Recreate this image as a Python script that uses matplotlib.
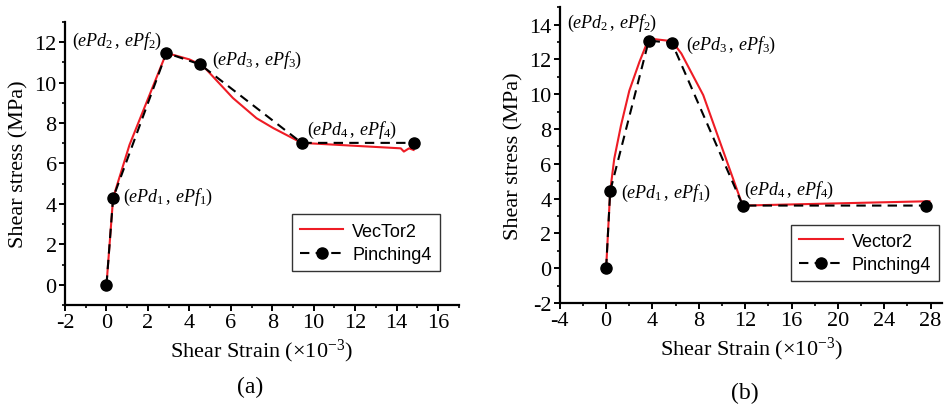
import matplotlib
matplotlib.use("Agg")
import matplotlib.pyplot as plt
from matplotlib.ticker import MultipleLocator, AutoMinorLocator

plt.rcParams['font.family'] = ['Liberation Serif', 'DejaVu Serif']
plt.rcParams['mathtext.fontset'] = 'custom'
plt.rcParams['mathtext.rm'] = 'Liberation Serif'
plt.rcParams['mathtext.it'] = 'Liberation Serif:italic'
plt.rcParams['axes.unicode_minus'] = False

# ---- Panel (a) data ----
a_vec_x = [0, 0.32, 1.11, 2.89, 4.0, 4.52, 4.82, 6.1, 7.24, 8.05, 9.42, 14.2, 14.35, 14.6, 14.82]
a_vec_y = [0, 4.3, 6.92, 11.47, 11.15, 10.9, 10.65, 9.24, 8.24, 7.75, 7.02, 6.75, 6.59, 6.75, 6.67]
a_pin_x = [0, 0.32, 2.89, 4.52, 9.42, 14.82]
a_pin_y = [0, 4.3, 11.47, 10.9, 7.02, 7.02]

# ---- Panel (b) data ----
b_vec_x = [0, 0.35, 0.7, 1.28, 2.0, 2.87, 3.68, 5.68, 6.49, 8.38, 11.57, 11.8, 27.9]
b_vec_y = [0, 4.43, 6.29, 8.2, 10.2, 11.85, 13.2, 13.05, 12.34, 9.95, 4.0, 3.6, 3.85]
b_pin_x = [0, 0.35, 3.68, 5.68, 11.8, 27.6]
b_pin_y = [0, 4.43, 13.08, 12.95, 3.6, 3.6]

a_labels = [(-1.65, 12.07, 2), (5.1, 11.17, 3), (0.78, 4.37, 1), (9.66, 7.7, 4)]
b_labels = [(-3.42, 14.15, 2), (6.87, 12.85, 3), (1.28, 4.37, 1), (11.9, 4.53, 4)]

fig = plt.figure(figsize=(9.44, 4.10), dpi=100)
axa = fig.add_axes([0.0689, 0.2537, 0.4171, 0.6902])
axb = fig.add_axes([0.593, 0.2585, 0.405, 0.7215])

def style(ax, xlim, ylim, xmaj, ymaj, vec_label, vx, vy, px, py, labels, legpos):
    ax.plot(vx, vy, color='#ee1c25', lw=1.5, zorder=2, label=vec_label)
    ax.plot(px, py, color='black', lw=1.5, dashes=(4.5, 3), marker='o', ms=8,
            zorder=3, label='Pinching4')
    ax.set_xlim(*xlim)
    ax.set_ylim(*ylim)
    ax.xaxis.set_major_locator(MultipleLocator(xmaj))
    ax.yaxis.set_major_locator(MultipleLocator(ymaj))
    ax.xaxis.set_minor_locator(AutoMinorLocator(2))
    ax.yaxis.set_minor_locator(AutoMinorLocator(2))
    for s in ['top', 'right']:
        ax.spines[s].set_visible(False)
    for s in ['left', 'bottom']:
        ax.spines[s].set_linewidth(1.6)
    ax.tick_params(which='major', direction='out', length=4, width=1.4, labelsize=16, pad=2)
    ax.tick_params(which='minor', direction='out', length=2.5, width=1.2)
    ax.set_xlabel(r'Shear Strain ($\times$10$^{\mathregular{-3}}$)', fontsize=16, labelpad=3)
    ax.set_ylabel('Shear stress (MPa)', fontsize=16, labelpad=4)
    for (x, y, k) in labels:
        ax.text(x, y, r'$(ePd_{%d}\,,\,ePf_{%d})$' % (k, k), fontsize=13,
                ha='left', va='center')
    leg = ax.legend(loc='lower left', bbox_to_anchor=legpos, borderaxespad=0,
                    fancybox=False, framealpha=1, edgecolor='#333333',
                    prop={'family': 'Liberation Sans', 'size': 13},
                    handlelength=2.4, handletextpad=0.5, labelspacing=0.35,
                    borderpad=0.45)
    leg.get_frame().set_linewidth(1.0)

style(axa, (-2, 17), (-1, 13), 2, 2, 'VecTor2', a_vec_x, a_vec_y, a_pin_x, a_pin_y,
      a_labels, (0.576, 0.12))
style(axb, (-4, 29), (-2, 15), 4, 2, 'Vector2', b_vec_x, b_vec_y, b_pin_x, b_pin_y,
      b_labels, (0.605, 0.074))

axa.set_xticks(range(-2, 17, 2))
axa.set_yticks(range(0, 13, 2))
axb.set_xticks(range(-4, 29, 4))
axb.set_yticks(range(-2, 15, 2))

fig.text(250 / 944, 1 - 387 / 410, '(a)', fontsize=17, ha='center', va='center')
fig.text(745 / 944, 1 - 393 / 410, '(b)', fontsize=17, ha='center', va='center')

fig.savefig('out.png', dpi=100)
